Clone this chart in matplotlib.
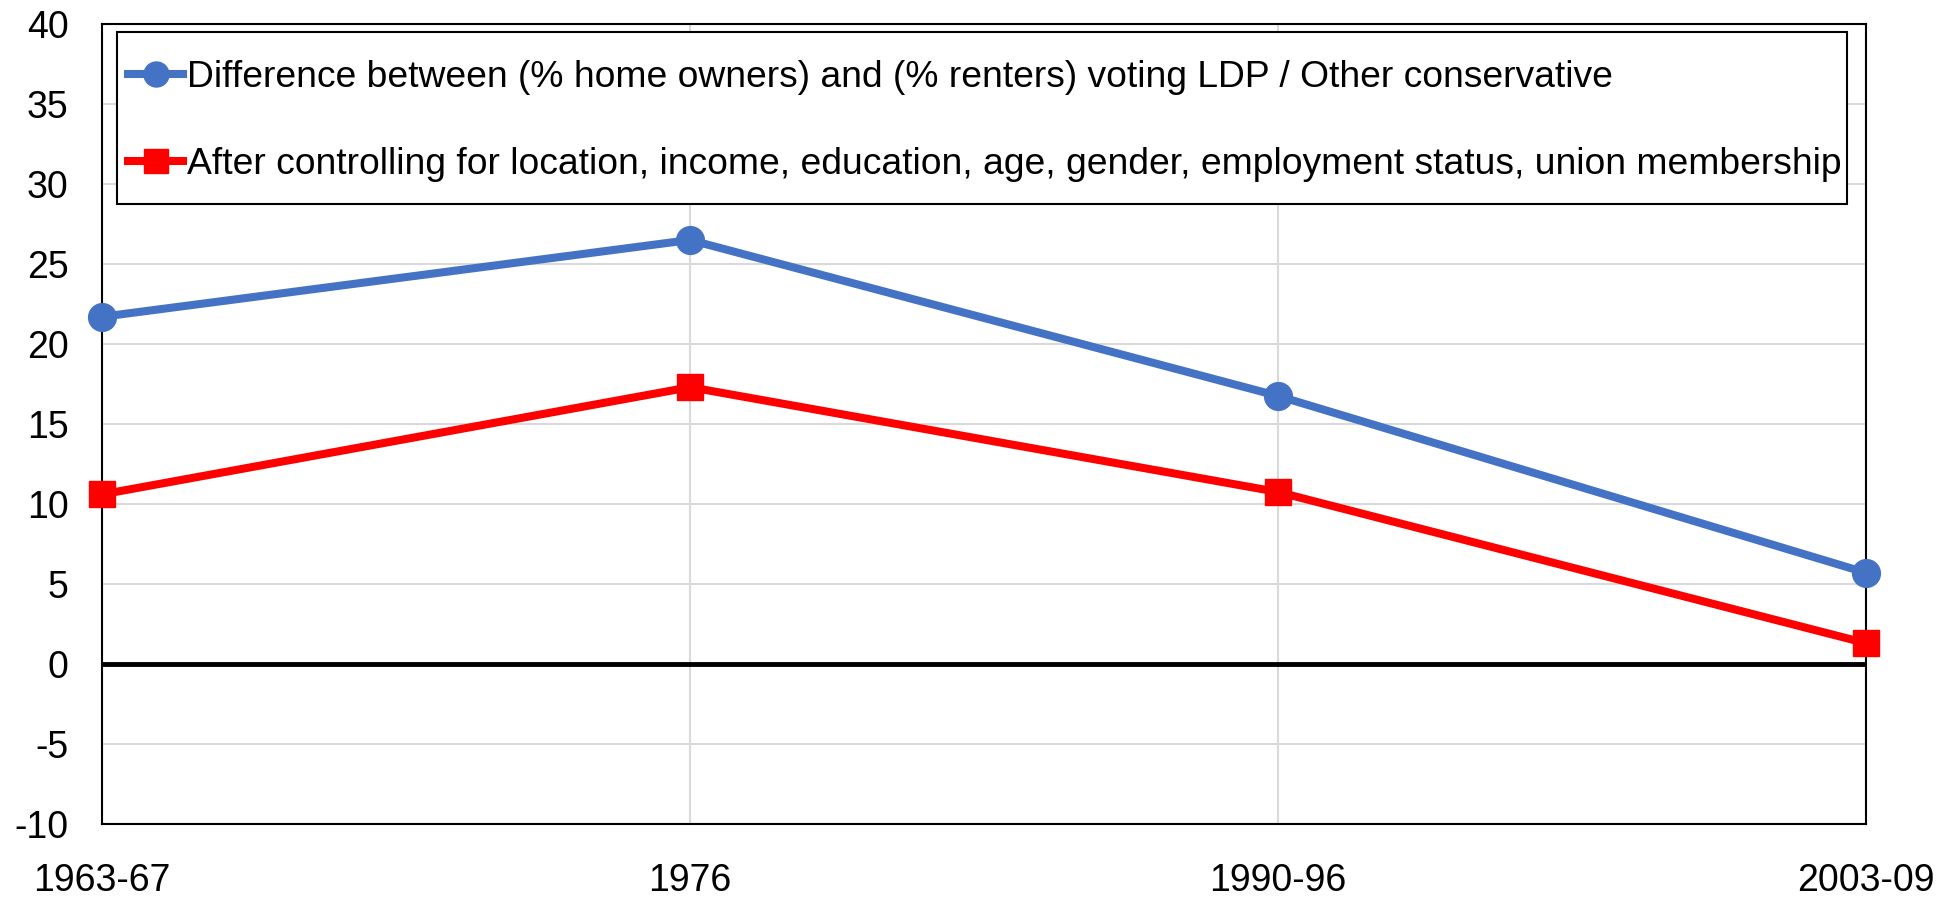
import matplotlib
matplotlib.use("Agg")
import matplotlib.pyplot as plt
from matplotlib.patches import Rectangle
from matplotlib.transforms import IdentityTransform

plt.rcParams['font.family'] = ['Liberation Sans', 'DejaVu Sans']
plt.rcParams['axes.unicode_minus'] = False

periods = ["1963-67", "1976", "1990-96", "2003-09"]
raw_gap = [21.7, 26.5, 16.75, 5.7]
controlled_gap = [10.6, 17.3, 10.75, 1.3]

label_raw = "Difference between (% home owners) and (% renters) voting LDP / Other conservative"
label_ctrl = ("After controlling for location, income, education, age, gender, "
              "employment status, union membership")

fig = plt.figure(figsize=(19.55, 8.98), dpi=100)
ax = fig.add_axes([0.0522, 0.0824, 0.9023, 0.8909])

x = list(range(len(periods)))
ax.plot(x, raw_gap, color="#4472C4", lw=5.8, marker="o", ms=20,
        label=label_raw, clip_on=False, zorder=4)
ax.plot(x, controlled_gap, color="#FF0000", lw=5.8, marker="s", ms=19,
        label=label_ctrl, clip_on=False, zorder=4)
ax.axhline(0, color="black", lw=3.5, zorder=3)

ax.set_xlim(0, 3)
ax.set_ylim(-10, 40)
ax.set_yticks(range(-10, 41, 5))
ax.set_xticks(x)
ax.set_xticklabels(periods)
ax.tick_params(axis="both", length=0, labelsize=27)
ax.tick_params(axis="x", pad=28)
ax.tick_params(axis="y", pad=24)

ax.grid(True, color="#d9d9d9", lw=1.5, zorder=0)
ax.set_axisbelow(True)
for sp in ax.spines.values():
    sp.set_color("black")
    sp.set_linewidth(1.5)

# legend without its own frame; a box with more room above/below is drawn behind it
leg = ax.legend(loc="upper left", bbox_to_anchor=(0.0145, 0.9555), borderaxespad=0,
                fontsize=26.8, frameon=False, handlelength=1.5, handletextpad=0.1,
                labelspacing=1.42, borderpad=0, markerscale=0.9)
leg.set_zorder(6)

fig.canvas.draw()
bb = leg.get_window_extent()
pad_l, pad_r, pad_t, pad_b = 11, 5, 28, 22
box = Rectangle((bb.x0 - pad_l, bb.y0 - pad_b), bb.width + pad_l + pad_r, bb.height + pad_t + pad_b,
                transform=IdentityTransform(), facecolor="white", edgecolor="black",
                lw=1.5, zorder=5, clip_on=False)
ax.add_artist(box)

fig.savefig("out.png", dpi=100)
